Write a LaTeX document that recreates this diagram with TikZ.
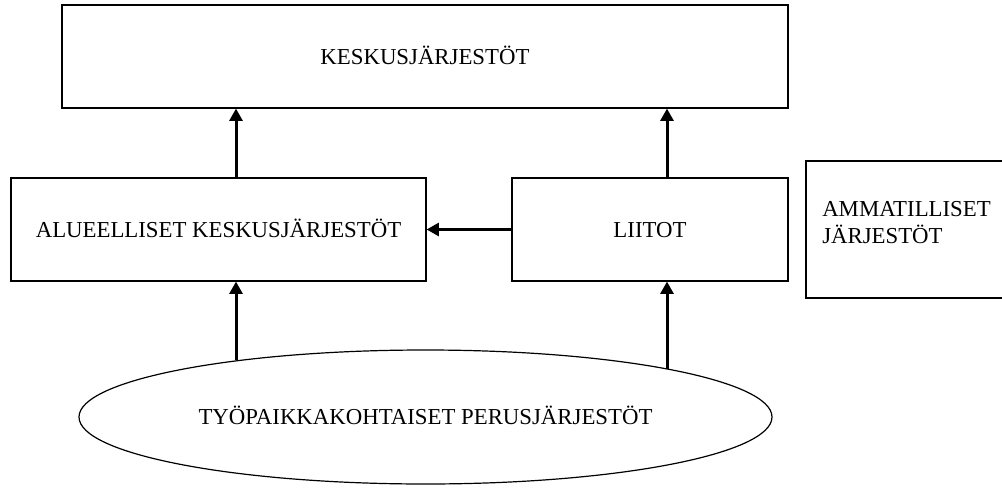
\documentclass[tikz,border=0pt]{standalone}
\usepackage{fontspec}
\setmainfont{Liberation Serif}
\usetikzlibrary{arrows.meta,shapes.geometric}
\tikzset{
  boxnode/.style={draw=black, line width=0.8pt, rectangle, inner sep=0pt,
    text height=11.3pt, text depth=0pt},
  ellnode/.style={draw=black, line width=0.9pt, ellipse, inner sep=0pt,
    text height=11.3pt, text depth=0pt},
  arr/.style={line width=2.25pt, -{Triangle[width=9.6pt,length=9.2pt]}},
  lbl/.style={font=\fontsize{17.1}{20.25}\selectfont}
}
\begin{document}
\begin{tikzpicture}[x=0.75pt, y=-0.75pt]
  \useasboundingbox (0,0) rectangle (1002,489);
  \fill[white] (0,0) rectangle (1002,489);
  \clip (0,0) rectangle (1002,489);

  \node[boxnode, lbl, minimum width=544.5pt, minimum height=77.25pt] (top) at (425,56.5) {KESKUSJÄRJESTÖT};
  \node[boxnode, lbl, minimum width=311.25pt, minimum height=77.25pt] (left) at (218.5,229.5) {ALUEELLISET KESKUSJÄRJESTÖT};
  \node[boxnode, lbl, minimum width=207pt, minimum height=77.25pt] (liitot) at (650,229.5) {LIITOT};
  \node[boxnode, minimum width=156pt, minimum height=102.75pt] (amm) at (910,229.5) {};
  \node[lbl, anchor=base west, align=left, inner sep=0pt] (ammtext) at (822,243) {AMMATILLISET\\JÄRJESTÖT};
  \node[ellnode, lbl, minimum width=519.75pt, minimum height=100.5pt] (ell) at (425.5,417) {TYÖPAIKKAKOHTAISET PERUSJÄRJESTÖT};

  \coordinate (c1) at (236,0);
  \coordinate (c2) at (667,0);

  \draw[arr] (left.north -| c1) -- (top.south -| c1);
  \draw[arr] (liitot.north -| c2) -- (top.south -| c2);
  \draw[arr] (liitot.west) -- (left.east);
  \draw[arr] (ell.163.5 -| c1) -- (left.south -| c1);
  \draw[arr] (ell.11.24 -| c2) -- (liitot.south -| c2);
\end{tikzpicture}
\end{document}
